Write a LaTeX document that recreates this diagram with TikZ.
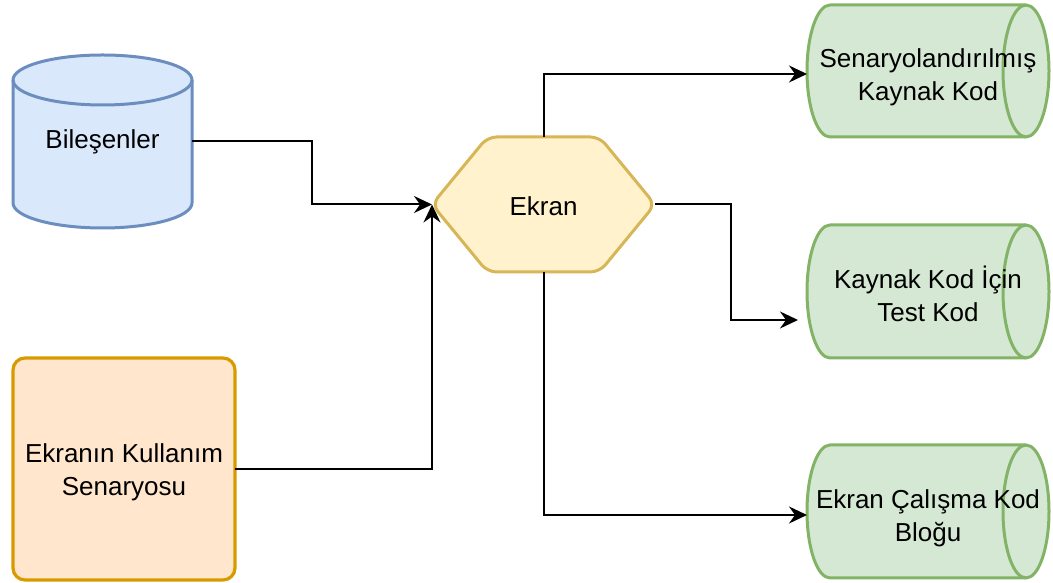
\documentclass[tikz,border=0pt]{standalone}
\usepackage{fontspec}
\setmainfont{Liberation Sans}
\usetikzlibrary{arrows.meta,calc}
\pgfdeclarelayer{background}
\pgfsetlayers{background,main}

\definecolor{bluefill}{HTML}{DAE8FC}
\definecolor{bluestroke}{HTML}{6C8EBF}
\definecolor{yelfill}{HTML}{FFF2CC}
\definecolor{yelstroke}{HTML}{D6B656}
\definecolor{orfill}{HTML}{FFE6CC}
\definecolor{orstroke}{HTML}{D79B00}
\definecolor{grfill}{HTML}{D5E8D4}
\definecolor{grstroke}{HTML}{82B366}

% centred lines, drawn #1 lower than the box that is centred
\newcommand\lowlines[2]{\raisebox{-#1}[\height][\depth]{\begin{tabular}{@{}c@{}}#2\end{tabular}}}

\tikzset{
  lbl/.style={inner sep=0pt, outer sep=0pt, align=center, font=\fontsize{26}{33}\selectfont},
  cylblue/.style={fill=bluefill, draw=bluestroke, line width=3pt},
  cylgreen/.style={fill=grfill, draw=grstroke, line width=3pt},
  hexa/.style={fill=yelfill, draw=yelstroke, line width=3pt, rounded corners=9pt},
  usecase/.style={lbl, fill=orfill, draw=orstroke, line width=3.2pt,
    rounded corners=12pt, minimum width=222pt, minimum height=222pt},
  conn/.style={draw=black, line width=2pt,
    -{Stealth[length=18pt,width=17pt,inset=6pt]}},
}

\begin{document}
\begin{tikzpicture}[x=1pt,y=1pt]
\useasboundingbox (0,0) rectangle (1053,583);

% text holders (their boxes carry the shapes drawn behind them)
\node[lbl, minimum width=179pt, minimum height=173pt] (bil) at (102.5,441.5) {Bileşenler};
\node[lbl, minimum width=223pt, minimum height=135pt] (ekr) at (543.5,378.5) {\lowlines{4.5pt}{Ekran}};
\node[usecase] (ekk) at (124,114) {\lowlines{3pt}{Ekranın Kullanım\\Senaryosu}};
\node[lbl, minimum width=242pt, minimum height=132pt] (k1) at (928,512) {\lowlines{6pt}{Senaryolandırılmış\\Kaynak Kod}};
\node[lbl, minimum width=242pt, minimum height=133pt] (k2) at (928,291.5) {\lowlines{6.5pt}{Kaynak Kod İçin\\Test Kod}};
\node[lbl, minimum width=242pt, minimum height=133pt] (k3) at (928,71.5) {\lowlines{6.5pt}{Ekran Çalışma Kod\\Bloğu}};

\begin{pgfonlayer}{background}
  % upright cylinder
  \path[cylblue] ([yshift=-25pt]bil.north west) -- ([yshift=25pt]bil.south west)
    arc[start angle=180, end angle=360, x radius=89.5pt, y radius=25pt]
    -- ([yshift=-25pt]bil.north east)
    arc[start angle=0, end angle=180, x radius=89.5pt, y radius=25pt] -- cycle;
  \draw[cylblue, fill=none] ([yshift=-25pt]bil.north west)
    arc[start angle=180, end angle=360, x radius=89.5pt, y radius=25pt];

  % lying cylinders
  \foreach \c/\r in {k1/66, k2/66.5, k3/66.5} {
    \path[cylgreen] ([xshift=23pt]\c.north west) -- ([xshift=-23pt]\c.north east)
      arc[start angle=90, end angle=-90, x radius=23pt, y radius=\r pt]
      -- ([xshift=23pt]\c.south west)
      arc[start angle=270, end angle=90, x radius=23pt, y radius=\r pt] -- cycle;
    \draw[cylgreen, fill=none] ([xshift=-23pt]\c.north east)
      arc[start angle=90, end angle=270, x radius=23pt, y radius=\r pt];
  }

  % hexagon
  \path[hexa] (ekr.west) -- ([xshift=-56pt]ekr.north) -- ([xshift=56pt]ekr.north)
    -- (ekr.east) -- ([xshift=56pt]ekr.south) -- ([xshift=-56pt]ekr.south) -- cycle;
\end{pgfonlayer}

% connectors
\coordinate (k2in) at (798,263);
\draw[conn] (bil.east) -- ++(120,0) |- (ekr.west);
\draw[conn] (ekk.east) -| (ekr.west);
\draw[conn] (ekr.north) |- ([yshift=-3pt]k1.west);
\draw[conn] (ekr.east) -- ++(76,0) |- (k2in);
\draw[conn] (ekr.south) |- ([yshift=-3.5pt]k3.west);
\end{tikzpicture}
\end{document}
